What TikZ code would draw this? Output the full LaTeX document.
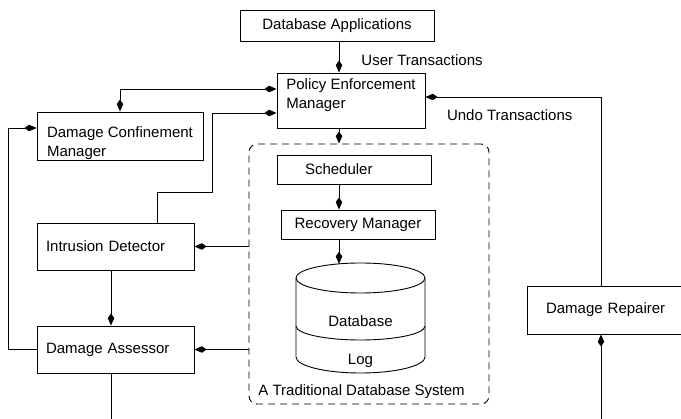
\documentclass[tikz,border=0pt]{standalone}
\usepackage{fontspec}
\setmainfont{Liberation Sans}
\usetikzlibrary{arrows.meta}
\tikzstyle{blk}=[shape=rectangle,draw,inner sep=0pt,font=\fontsize{15}{19}\selectfont]
\tikzstyle{lblk}=[blk,align=left]
\tikzstyle{sysbox}=[shape=rectangle,draw,dash pattern=on 7pt off 5pt,rounded corners=8pt,inner sep=0pt]
\tikzstyle{lbl}=[inner sep=0pt,font=\fontsize{15}{19}\selectfont]
\tikzstyle{to}=[-{Kite[length=12pt,width=6.5pt,inset=4.5pt]}]
\tikzstyle{both}=[{Kite[length=12pt,width=6.5pt,inset=4.5pt]}-{Kite[length=12pt,width=6.5pt,inset=4.5pt]}]

\begin{document}
\begin{tikzpicture}[x=1pt,y=-1pt,line width=0.9pt]
    \useasboundingbox (0,0) rectangle (681,419);
        \coordinate (colx) at (339,0);
        \node[blk,minimum width=194pt,minimum height=31pt] (apps) at (337,25.5) {Database Applications};
        \node[lblk,minimum width=148pt,minimum height=55pt,text height=30pt,text depth=14pt] (pem) at (351,100.5) {Policy Enforcement\\Manager};
        \node[lblk,minimum width=166pt,minimum height=48pt,text height=44pt,text depth=3pt] (dcm) at (120,136) {Damage Confinement\\Manager};
        \node[lblk,inner xsep=9pt,text width=139pt,minimum height=47pt] (id) at (115.5,246.5) {Intrusion Detector};
        \node[lblk,inner xsep=9pt,text width=139pt,minimum height=47pt] (da) at (115.5,349.5) {Damage Assessor};
        \node[lblk,inner xsep=19pt,text width=135pt,minimum height=48pt] (dr) at (613.5,310) {Damage Repairer};
        % the database system
        \node[sysbox,minimum width=240pt,minimum height=260pt] (sys) at (369,274) {};
        \node[lbl,anchor=west] (syslbl) at (258,392) {A Traditional Database System};
        \node[lblk,inner xsep=28pt,text width=98pt,minimum height=29pt] (sch) at (354,169.5) {Scheduler};
        \node[blk,minimum width=154pt,minimum height=29pt] (rm) at (358,224.5) {Recovery Manager};
        \draw (296,278) arc[start angle=180,end angle=540,x radius=64.5pt,y radius=15pt];
        \draw (296,278) -- (296,357) arc[start angle=180,end angle=360,x radius=64.5pt,y radius=16pt] -- (425,278);
        \draw (296,326) arc[start angle=180,end angle=360,x radius=64.5pt,y radius=14pt];
        \coordinate (dbtop) at (339,263.9);
        \node[lbl] (dbtxt) at (360.5,321) {Database};
        \node[lbl] (logtxt) at (360.5,361) {Log};
        % connectors
        \draw[to] (apps.south -| colx) -- node[lbl,pos=0.6,right=22pt] (utr) {User Transactions} (pem.north -| colx);
        \draw[to] (pem.south -| colx) -- (sys.north -| colx);
        \draw[to] (sch.south -| colx) -- (rm.north -| colx);
        \draw[to] (rm.south -| colx) -- (dbtop);
        \draw[both] ([yshift=11.5pt]pem.west) -| (dcm.north);
        \draw[to] ([xshift=41.5pt]id.north) |- (212,192) |- ([yshift=-12.5pt]pem.west);
        \draw[to] ([xshift=-12.5pt]dr.north) |- node[lbl,pos=0.76,below=12pt] (undo) {Undo Transactions} ([yshift=3.5pt]pem.east);
        \draw[to] (da.west) -- ++(-28,0) |- ([yshift=8pt]dcm.west);
        \draw[to] (sys.west |- id.east) -- (id.east);
        \draw[to] (sys.west |- da.east) -- (da.east);
        \draw[to] ([xshift=-4.5pt]id.south) -- ([xshift=-4.5pt]da.north);
        \coordinate (daout) at (111,419);
        \draw ([xshift=-4.5pt]da.south) -- (daout);
        \coordinate (drin) at (601,419);
        \draw[to] (drin) -- ([xshift=-12.5pt]dr.south);
\end{tikzpicture}
\end{document}
